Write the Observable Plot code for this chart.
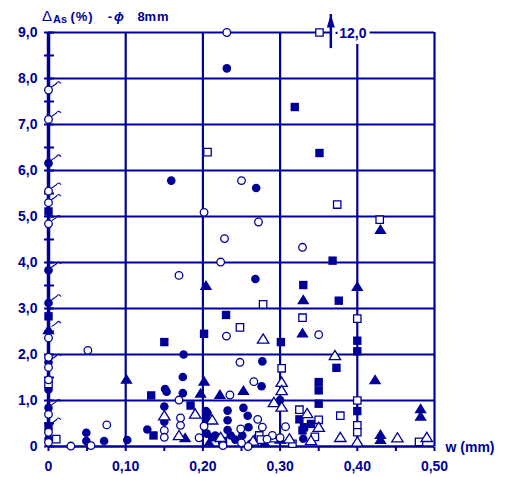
<!DOCTYPE html>
<html><head><meta charset="utf-8">
<script src="https://cdn.jsdelivr.net/npm/d3@7"></script>
<script src="https://cdn.jsdelivr.net/npm/@observablehq/plot@0.6"></script>
<style>body{margin:0;background:#fff}</style>
</head><body><div id="chart"></div>
<script>
const C = "#000099";

// [w (mm), ΔAs (%)]
const filledCircles = [
  [0,6.16],[0,3.83],[0,3.12],[0,1.83],[0,1.24],[0,0.84],[0,0.17],
  [0.231,8.22],[0.159,5.78],[0.269,5.62],[0.268,3.64],[0.175,2.0],[0.174,1.51],[0.151,1.25],[0.153,1.19],
  [0.174,1.16],[0.150,0.87],[0.204,0.77],[0.204,0.60],[0.150,0.54],[0.128,0.37],[0.102,0.14],[0.049,0.30],
  [0.049,0.12],[0.072,0.12],[0.277,1.85],[0.276,1.31],[0.300,1.01],[0.232,0.78],[0.2525,0.84],[0.258,0.67],
  [0.232,0.57],[0.232,0.36],[0.259,0.42],[0.205,0.28],[0.212,0.20],[0.216,0.24],[0.236,0.24],[0.242,0.15],
  [0.251,0.24],[0.330,0.17],[0.225,0.08],[0.262,0.06],[0.206,0.73],[0.271,0.20]
];
const openCircles = [
  [0,7.75],[0,7.11],[0,5.55],[0,5.30],[0,4.84],[0,2.36],[0,1.94],[0,1.72],[0,1.45],[0,0.70],[0,0.31],[0,0.09],
  [0.231,9.0],[0.25,5.78],[0.2015,5.09],[0.272,4.88],[0.228,4.52],[0.223,4.01],[0.169,3.72],[0.329,4.33],
  [0.2305,2.40],[0.35,2.43],[0.051,2.09],[0.248,1.83],[0.235,1.12],[0.169,1.01],[0.266,1.41],[0.171,0.62],
  [0.171,0.46],[0.150,0.35],[0.150,0.20],[0.2015,0.44],[0.195,0.19],[0.029,0.01],[0.055,0.02],[0.0755,0.47],
  [0.271,0.59],[0.277,0.42],[0.249,0.38],[0.226,0.02],[0.2585,0.0],[0.307,0.43],[0.29,0.24],[0.30,0.19],
  [0.283,0.16],[0.25,0.08]
];
const filledSquares = [
  [0,5.11],[0,2.83],[0,0.44],
  [0.319,7.38],[0.351,6.38],[0.368,4.04],[0.330,3.51],[0.376,3.17],[0.230,2.86],[0.2015,2.45],[0.150,2.27],
  [0.301,2.27],[0.400,2.30],[0.400,2.07],[0.373,1.71],[0.350,1.40],[0.350,1.22],[0.350,0.93],[0.133,1.11],
  [0.184,0.89],[0.136,0.24],[0.400,0.77],[0.325,0.59],[0.331,0.42],[0.340,0.49],[0.329,0.35],[0.226,0.12]
];
const openSquares = [
  [0,1.36],[0.010,0.16],
  [0.351,9.0],[0.206,6.40],[0.374,5.26],[0.429,4.93],[0.278,3.09],[0.329,2.80],[0.248,2.59],[0.400,2.78],
  [0.302,1.70],[0.400,1.00],[0.400,0.46],[0.400,0.31],[0.378,0.67],[0.325,0.80],[0.350,0.58],[0.345,0.21],
  [0.480,0.10],[0.273,0.24],[0.275,0.15],[0.316,0.06]
];
const filledTriangles = [
  [0,2.54],
  [0.204,3.50],[0.400,3.48],[0.330,3.19],[0.430,4.72],[0.329,2.47],[0.101,1.46],[0.2015,1.42],[0.197,1.16],
  [0.222,1.13],[0.2525,1.22],[0.423,1.45],[0.177,0.19],[0.430,0.26],[0.430,0.15],[0.482,0.82],[0.482,0.66],
  [0.208,0.08],[0.300,0.16],[0.280,0.08]
];
const openTriangles = [
  [0.150,0.67],[0.190,0.71],[0.212,0.58],[0.169,0.24],[0.278,2.34],[0.371,1.98],[0.302,1.40],[0.302,1.22],
  [0.292,0.96],[0.302,0.86],[0.335,0.72],[0.350,0.42],[0.400,0.10],[0.378,0.20],[0.452,0.19],[0.490,0.20],
  [0.223,0.20],[0.290,0.19],[0.340,0.13],[0.265,0.12],[0.312,0.17]
];
// values on the w = 0 axis that carry a small hook mark
const hookLevels = [7.75, 7.11, 6.16, 5.55, 5.30, 4.84, 3.83, 3.12, 2.54, 1.83, 0.84, 0.44];

// off-scale value marker
const offScale = [{w: 0.3657, from: 8.65, to: 9.39, labelW: 0.3705, labelV: 9.0, label: "·12,0"}];

const yTickValues = [0,1,2,3,4,5,6,7,8,9];
const yTickLabels = ["0","1,0","2,0","3,0","4,0","5,0","6,0","7,0","8,0","9,0"];
const yHalfTicks = [0,0.5,1,1.5,2,2.5,3,3.5,4,4.5,5,5.5,6,6.5,7,7.5,8,8.5,9];
const xTickValues = [0,0.1,0.2,0.3,0.4,0.5];
const xTickLabels = ["0","0,10","0,20","0,30","0,40","0,50"];
const xMinorTicks = [0,0.05,0.1,0.15,0.2,0.25,0.3,0.35,0.4,0.45,0.5];
const xAxisTitle = "w (mm)";

// custom symbols
const hline = {draw(c){ c.moveTo(-4.5,0); c.lineTo(5.5,0); }};
const vtick = {draw(c){ c.moveTo(0,0); c.lineTo(0,4.5); }};
const hook = {draw(c){ c.moveTo(3,-3); c.lineTo(8,-6.5); c.quadraticCurveTo(10,-10,12.5,-6.5); }};
const arrowHead = {draw(c){ c.moveTo(0,0); c.lineTo(-4,13); c.lineTo(4,13); c.closePath(); }};
const sqF = {draw(c){ c.rect(-4.2,-4.2,8.4,8.4); }};
const sqO = {draw(c){ c.rect(-3.7,-3.7,7.4,7.4); }};
const triF = {draw(c){ c.moveTo(0,-5.5); c.lineTo(6.2,4.5); c.lineTo(-6.2,4.5); c.closePath(); }};
const triO = {draw(c){ c.moveTo(0,-5); c.lineTo(5.7,4.2); c.lineTo(-5.7,4.2); c.closePath(); }};

const pw = d => d[0], pv = d => d[1];

const plot = Plot.plot({
  width: 505, height: 477,
  marginLeft: 48, marginRight: 71, marginTop: 32, marginBottom: 31,
  x: {domain: [0, 0.5], axis: null},
  y: {domain: [0, 9], axis: null},
  style: {fontFamily: "'Liberation Sans', Arial, sans-serif", fontWeight: "bold", color: C, background: "white", overflow: "visible"},
  marks: [
    Plot.ruleY(yTickValues.slice(1), {y: d => d, x1: 0, x2: 0.5, stroke: C, strokeWidth: 2.2}),
    Plot.ruleX(xTickValues.slice(1), {x: d => d, y1: 0, y2: 9, stroke: C, strokeWidth: 2.2}),
    Plot.ruleY([0], {y: d => d, x1: 0, x2: 0.5, stroke: C, strokeWidth: 2.5}),
    Plot.ruleX([0], {x: d => d, y1: 0, y2: 9, stroke: C, strokeWidth: 3.5}),
    Plot.dot(yHalfTicks, {x: () => 0, y: d => d, symbol: hline, stroke: C, strokeWidth: 2}),
    Plot.dot(xMinorTicks, {x: d => d, y: () => 0, symbol: vtick, stroke: C, strokeWidth: 2}),
    Plot.text(yTickValues, {x: () => 0, y: d => d, text: (d, i) => yTickLabels[i], textAnchor: "end", dx: -11, dy: 0, fill: C, fontSize: 14, fontWeight: "bold", ariaLabel: "ticklabels"}),
    Plot.text(xTickValues, {x: d => d, y: () => 0, text: (d, i) => xTickLabels[i], dy: 20, fill: C, fontSize: 14, fontWeight: "bold", ariaLabel: "ticklabels"}),
    Plot.text([xAxisTitle], {x: () => 0.5, y: () => 0, text: d => d, textAnchor: "start", dx: 11, dy: 1, fill: C, fontSize: 14, fontWeight: "bold", ariaLabel: "ticklabels"}),
    // hooks on axis values
    Plot.dot(hookLevels, {x: () => 0, y: d => d, symbol: hook, stroke: C, strokeWidth: 1.1, fill: "none"}),
    // points
    Plot.dot(filledCircles, {x: pw, y: pv, r: 4.3, fill: C, stroke: "none", symbol: "circle"}),
    Plot.dot(filledSquares, {x: pw, y: pv, symbol: sqF, fill: C, stroke: "none"}),
    Plot.dot(filledTriangles, {x: pw, y: pv, symbol: triF, fill: C, stroke: "none"}),
    Plot.dot(openSquares, {x: pw, y: pv, symbol: sqO, fill: "white", stroke: C, strokeWidth: 1.3}),
    Plot.dot(openTriangles, {x: pw, y: pv, symbol: triO, fill: "white", stroke: C, strokeWidth: 1.3}),
    Plot.dot(openCircles, {x: pw, y: pv, r: 3.8, fill: "white", stroke: C, strokeWidth: 1.3, symbol: "circle"}),
    // off-scale marker
    Plot.text(offScale, {x: "labelW", y: "labelV", text: "label", textAnchor: "start", dy: 1.5, fill: C, stroke: "white", strokeWidth: 7, paintOrder: "stroke", fontSize: 14, fontWeight: "bold", ariaLabel: "ticklabels"}),
    Plot.ruleX(offScale, {x: "w", y1: "from", y2: "to", stroke: C, strokeWidth: 2.5}),
    Plot.dot(offScale, {x: "w", y: "to", symbol: arrowHead, fill: C, stroke: "none"})
  ]
});

const svg = d3.select(plot);
svg.selectAll('g[aria-label="ticklabels"] text').attr("letter-spacing", "1.5px");

// title with subscript
const t = svg.append("text").attr("y", 21).attr("fill", C)
  .attr("font-family", "'Liberation Sans', Arial, sans-serif").attr("font-weight", "bold").attr("font-size", 13);
t.append("tspan").attr("x", 47).attr("font-size", 15).attr("font-weight", "normal").text("Δ");
t.append("tspan").attr("x", 60).attr("dy", 2).attr("font-size", 11).text("As");
t.append("tspan").attr("x", 82).attr("dy", -2).attr("letter-spacing", "1px").text("(%)");
t.append("tspan").attr("x", 110).text("-");
t.append("tspan").attr("x", 119).attr("font-style", "italic").text("ϕ");
t.append("tspan").attr("x", 141).text("8");
t.append("tspan").attr("x", 157).attr("letter-spacing", "1px").text("mm");

document.getElementById("chart").appendChild(plot);
</script>
</body></html>
